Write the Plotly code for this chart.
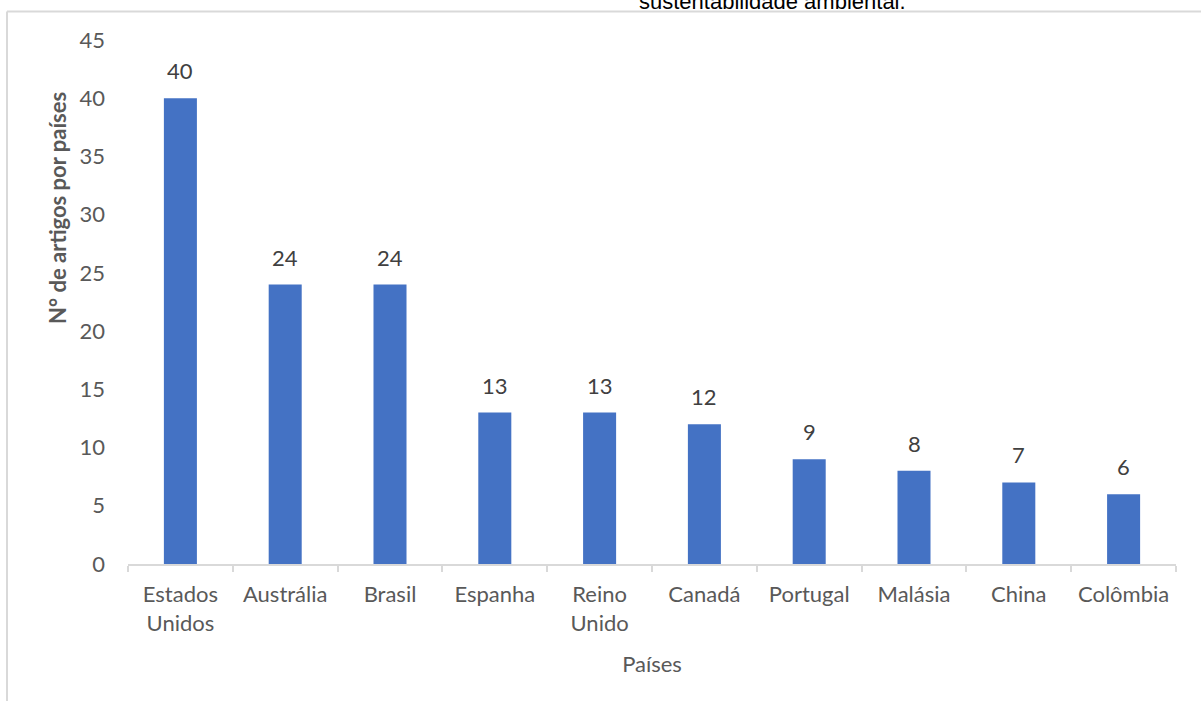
import plotly.graph_objects as go

paises = ["Estados<br>Unidos", "Austrália", "Brasil", "Espanha", "Reino<br>Unido",
          "Canadá", "Portugal", "Malásia", "China", "Colômbia"]
artigos = [40, 24, 24, 13, 13, 12, 9, 8, 7, 6]
y_ticks = [0, 5, 10, 15, 20, 25, 30, 35, 40, 45]

FONT = "Lato, Carlito, Calibri, sans-serif"
GRAY = "#595959"
LINE = "#d9d9d9"
FS = 22

fig = go.Figure(go.Bar(
    x=paises, y=artigos,
    marker=dict(color="#4472C4", line=dict(width=0)),
))

labels = [dict(x=p, y=v, text=str(v), xref="x", yref="y", showarrow=False,
               yanchor="bottom", yshift=12,
               font=dict(family=FONT, size=FS, color="#404040"))
          for p, v in zip(paises, artigos)]

PW, PH = 1048, 524

fig.update_layout(
    width=1201, height=701,
    margin=dict(l=128, r=25, t=40, b=137),
    paper_bgcolor="white", plot_bgcolor="white",
    bargap=0.685,
    showlegend=False,
    font=dict(family=FONT, size=FS, color=GRAY),
    xaxis=dict(
        showgrid=False, showline=True, linecolor=LINE, linewidth=2,
        ticks="outside", tickson="boundaries", ticklen=6, tickcolor=LINE, tickwidth=2,
        tickfont=dict(family=FONT, size=FS, color=GRAY),
        ticklabelstandoff=10,
        title=dict(text="Países", font=dict(family=FONT, size=FS, color=GRAY), standoff=22),
    ),
    yaxis=dict(
        range=[0, 45], tickvals=y_ticks, showgrid=False, zeroline=False, showline=False,
        ticks="", tickfont=dict(family=FONT, size=FS, color=GRAY),
        ticklabelstandoff=22,
    ),
    shapes=[
        dict(type="line", xref="paper", yref="paper",
             x0=(7 - 128) / PW, x1=1.03, y0=1 + 28.5 / PH, y1=1 + 28.5 / PH,
             line=dict(color=LINE, width=2)),
        dict(type="line", xref="paper", yref="paper",
             x0=(7 - 128) / PW, x1=(7 - 128) / PW, y0=1 + 28.5 / PH, y1=-0.3,
             line=dict(color=LINE, width=2)),
    ],
    annotations=labels + [
        dict(text="<b>N° de artigos por países</b>", xref="paper", yref="paper",
             x=(57 - 128) / PW, y=(564 - 208) / PH, xanchor="center", yanchor="middle",
             textangle=-90, showarrow=False,
             font=dict(family=FONT, size=FS, color=GRAY)),
        dict(text="sustentabilidade ambiental.", xref="paper", yref="paper",
             x=(772 - 128) / PW, y=1 + 24 / PH, xanchor="center", yanchor="bottom",
             showarrow=False,
             font=dict(family="Liberation Sans, Arial, sans-serif", size=22, color="black")),
    ],
)

fig.write_html("out.html")
